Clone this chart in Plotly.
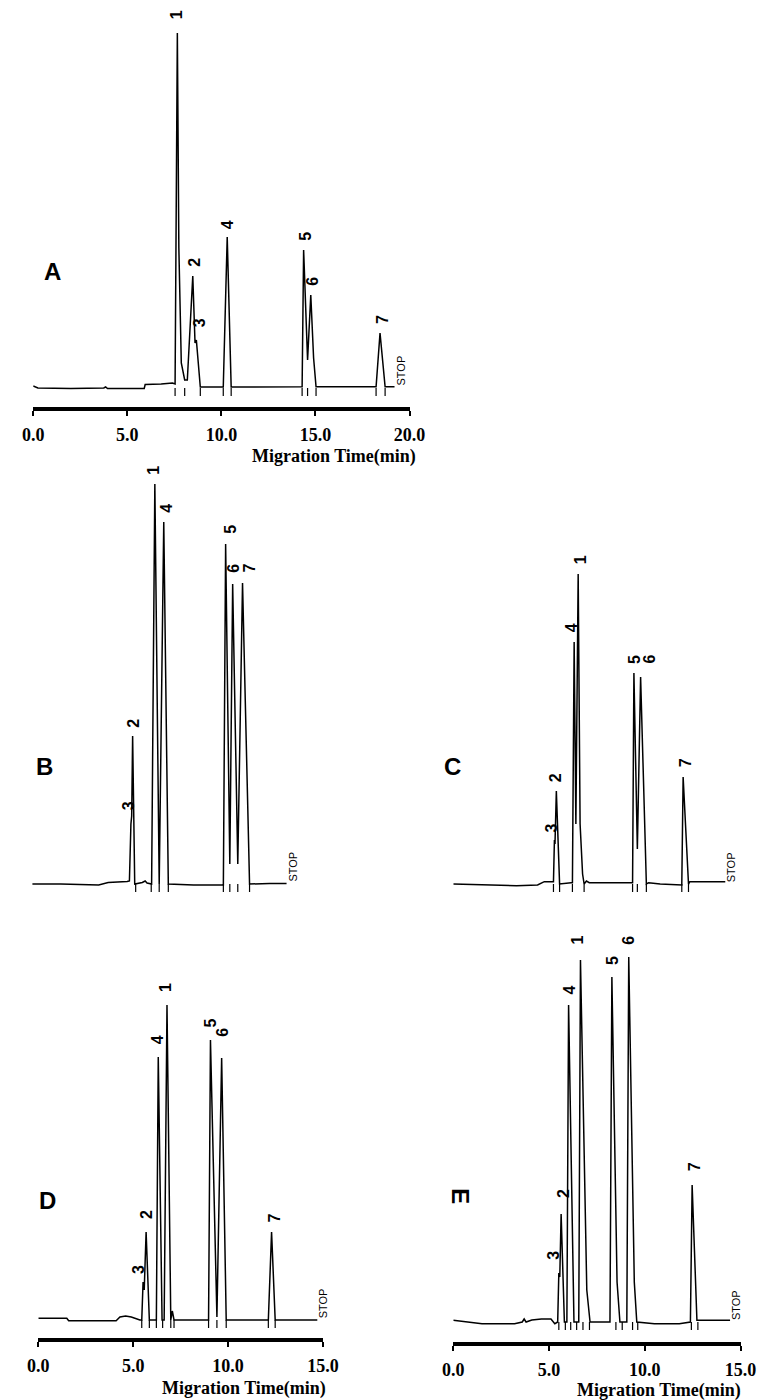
import plotly.graph_objects as go

W, H = 773, 1400

# ---------------- data (time in min, detector signal in arbitrary units) ----------------
peak_names = ["1", "2", "3", "4", "5", "6", "7"]

# Panel A
A_time = [0.0, 0.25, 2.0, 3.75, 3.85, 3.95, 5.9, 5.95, 6.8, 7.4, 7.54, 7.66, 7.74, 7.87, 8.05, 8.19,
          8.48, 8.60, 8.67, 8.78, 8.88, 10.10, 10.31, 10.52, 14.29, 14.37, 14.58, 14.75, 14.90, 15.03,
          18.22, 18.43, 18.70, 19.2]
A_signal = [2.0, 0.0, -0.5, 0.0, 1.0, -0.5, -0.5, 3.5, 4.0, 5.0, 4.0, 355, 140, 25, 8, 8,
            112, 45, 48, 25, 1, 1, 151, 1, 1.3, 138, 28, 93, 30, 1.3,
            1.3, 55, 1.3, 1.3]
A_marks = [7.54, 8.05, 8.88, 10.10, 10.52, 14.29, 14.58, 15.03, 18.22, 18.70]
A_peak_time = [7.66, 8.48, 8.67, 10.31, 14.37, 14.75, 18.43]
A_peak_height = [355, 112, 48, 151, 138, 93, 55]

# Panel B
B_time = [0.0, 1.5, 3.5, 4.0, 5.0, 5.12, 5.20, 5.24, 5.29, 5.40, 5.80, 5.95, 6.05, 6.29, 6.46, 6.69,
          6.93, 7.17, 8.5, 10.07, 10.19, 10.41, 10.56, 10.83, 11.08, 11.45, 12.5, 13.4]
B_signal = [0, 0, -1, 1.5, 2.5, 3, 60, 68, 148, 0, 1.5, 3, 1, 0, 400, 0,
            362, 0, -1, -1, 340, 20, 300, 20, 301, 0, 0.5, 0.5]
B_marks = [5.45, 6.27, 6.69, 7.17, 10.07, 10.41, 10.83, 11.45]
B_peak_time = [6.46, 5.29, 5.22, 6.93, 10.19, 10.56, 11.08]
B_peak_height = [400, 148, 67, 362, 340, 300, 301]

# Panel C
C_time = [0.0, 1.5, 3.3, 4.4, 4.75, 5.15, 5.23, 5.28, 5.31, 5.38, 5.55, 6.15, 6.22, 6.31, 6.40,
          6.52, 6.62, 6.75, 6.83, 6.95, 7.1, 9.36, 9.43, 9.61, 9.78, 10.08, 10.2, 10.8, 11.5, 11.93,
          12.0, 12.28, 12.35, 14.2]
C_signal = [0, -1, -1.7, -1, 2.3, 2.3, 2.3, 44, 40, 93, 0, 1.3, 1.3, 242, 60,
            310, 60, 10, 0, 3, 1.3, 1.3, 211, 35, 207, 0, 1.3, 0, -1, -1,
            107, 0, 2.3, 2.3]
C_marks = [5.23, 5.55, 6.22, 6.83, 9.36, 9.61, 10.08, 11.93, 12.28]
C_peak_time = [6.52, 5.38, 5.28, 6.31, 9.43, 9.78, 12.0]
C_peak_height = [310, 93, 44, 242, 211, 207, 107]

# Panel D
D_time = [0.0, 1.5, 1.6, 4.1, 4.3, 4.6, 4.9, 5.15, 5.35, 5.45, 5.52, 5.58, 5.68, 5.85, 6.22,
          6.32, 6.52, 6.63, 6.78, 6.98, 7.06, 7.15, 8.97, 9.07, 9.41, 9.66, 9.90, 12.12, 12.29,
          12.48, 14.7]
D_signal = [1.7, 1.7, -0.7, -0.7, 3, 4, 3, 1, 0, 0, 38, 30, 88, 0, 0,
            263, 0, 0, 315, 0, 9, 0, 0, 280, 3, 262, 0, 0, 88,
            0, 0]
D_marks = [5.45, 5.85, 6.22, 6.55, 6.98, 7.15, 8.97, 9.41, 9.90, 12.12, 12.48]
D_peak_time = [6.78, 5.68, 5.52, 6.32, 9.07, 9.66, 12.29]
D_peak_height = [315, 88, 38, 263, 280, 262, 88]

# Panel E
E_time = [0.0, 1.5, 3.2, 3.6, 3.7, 3.8, 4.1, 4.6, 5.1, 5.3, 5.45, 5.51, 5.56, 5.63, 5.80, 5.93,
          6.02, 6.30, 6.55, 6.64, 6.97, 7.14, 7.4, 8.18, 8.28, 8.55, 8.70, 9.06, 9.16, 9.45, 9.58,
          10.5, 11.8, 12.38, 12.47, 12.72, 14.45]
E_signal = [1.7, -1.7, -1.7, 0, 3, 0, 2, 3, 3, -1.7, 0, 49, 45, 108, 0, 0,
            317, 0, 0, 362, 32, 0, 0, 0, 345, 40, 0, 0, 365, 40, 0,
            -1.7, -1.7, 0, 137, 1.7, 1.7]
E_marks = [5.51, 5.85, 6.13, 6.44, 6.77, 7.11, 8.49, 8.82, 9.36, 9.63, 12.43, 12.77]
E_peak_time = [6.64, 5.63, 5.51, 6.02, 8.28, 9.16, 12.47]
E_peak_height = [362, 108, 49, 317, 345, 365, 137]

# ---------------- layout / style (pixel geometry of the page) ----------------
panels = [
    dict(letter="A", t=A_time, s=A_signal, marks=A_marks, pt=A_peak_time, ph=A_peak_height,
         xpx=(23, 413), xr=(0, 20), top=8, bottom=407, base=388, axis=True,
         letter_px=(42.5, 271.5), letter_angle=0, title_px=(335, 457),
         nudge={"1": (0, 18), "3": (4, 17), "4": (1, 12), "7": (3, 13)}),
    dict(letter="B", t=B_time, s=B_signal, marks=B_marks, pt=B_peak_time, ph=B_peak_height,
         xpx=(22, 317), xr=(0, 15), top=455, bottom=900, base=884, axis=False,
         letter_px=(35, 766.5), letter_angle=0, title_px=None,
         nudge={"1": (-1, 14), "7": (6, 15), "5": (4, 15), "6": (0, 16), "3": (-3, 11), "2": (0, 13)}),
    dict(letter="C", t=C_time, s=C_signal, marks=C_marks, pt=C_peak_time, ph=C_peak_height,
         xpx=(458.3, 756), xr=(0, 15), top=455, bottom=900, base=884, axis=False,
         letter_px=(457, 766.5), letter_angle=0, title_px=None,
         nudge={"4": (-3, 14), "6": (8, 18), "5": (0, 14), "3": (-3, 12), "2": (-1, 13)}),
    dict(letter="D", t=D_time, s=D_signal, marks=D_marks, pt=D_peak_time, ph=D_peak_height,
         xpx=(28.3, 323.3), xr=(0, 15), top=975, bottom=1338, base=1320, axis=True,
         letter_px=(37.5, 1200), letter_angle=0, title_px=(241, 1388),
         nudge={"1": (-2, 18), "4": (-1, 17), "5": (0, 17), "6": (0, 26), "2": (0, 17), "3": (-5, 12)}),
    dict(letter="E", t=E_time, s=E_signal, marks=E_marks, pt=E_peak_time, ph=E_peak_height,
         xpx=(458.3, 756), xr=(0, 15), top=930, bottom=1342, base=1322, axis=True,
         letter_px=(465.5, 1196.5), letter_angle=90, title_px=(671, 1390),
         nudge={"1": (-3, 20), "4": (0, 15), "5": (0, 17), "6": (-1, 17), "2": (2, 20), "3": (-6, 18), "7": (2, 18)}),
]

SERIF = "Liberation Serif, Times New Roman, serif"
SANS = "Liberation Sans, Arial, sans-serif"
MARK_DEPTH = -8

fig = go.Figure()
layout = dict(width=W, height=H, margin=dict(l=0, r=0, t=0, b=0),
              paper_bgcolor="white", plot_bgcolor="white", showlegend=False)
annotations = []

for i, p in enumerate(panels, start=1):
    sfx = "" if i == 1 else str(i)
    xa, ya = "x" + sfx, "y" + sfx
    # signal trace
    fig.add_trace(go.Scatter(x=p["t"], y=p["s"], mode="lines", xaxis=xa, yaxis=ya,
                             line=dict(color="black", width=1.5), hoverinfo="skip"))
    # integrator event marks
    mx, my = [], []
    for m in p["marks"]:
        mx += [m, m, None]
        my += [0, MARK_DEPTH, None]
    fig.add_trace(go.Scatter(x=mx, y=my, mode="lines", xaxis=xa, yaxis=ya,
                             line=dict(color="black", width=1.2), hoverinfo="skip"))

    xdom = [p["xpx"][0] / W, p["xpx"][1] / W]
    ydom = [1 - p["bottom"] / H, 1 - p["top"] / H]
    yr = [p["base"] - p["bottom"], p["base"] - p["top"]]
    xr = list(p["xr"])
    tv = list(range(int(xr[0]), int(xr[1]) + 1, 5))
    xaxis = dict(domain=xdom, range=xr, anchor=ya, showgrid=False, zeroline=False, fixedrange=True)
    if p["axis"]:
        xaxis.update(showline=True, linewidth=4, linecolor="black", ticks="outside",
                     ticklen=5, tickwidth=2, tickcolor="black", tickvals=tv,
                     ticktext=[f"{v:.1f}" for v in tv], ticklabelstandoff=3,
                     tickfont=dict(family=SERIF, size=18, color="black", weight="bold"))
    else:
        xaxis.update(visible=False)
    layout["xaxis" + sfx] = xaxis
    layout["yaxis" + sfx] = dict(domain=ydom, range=yr, anchor=xa, visible=False,
                                 showgrid=False, zeroline=False, fixedrange=True)

    # peak labels
    for name, t, h in zip(peak_names, p["pt"], p["ph"]):
        dx, dy = p["nudge"].get(name, (2, 14))
        annotations.append(dict(x=t, y=h, xref=xa, yref=ya, text=name, showarrow=False,
                                textangle=-90, xanchor="center", yanchor="middle",
                                xshift=dx, yshift=dy,
                                font=dict(family=SANS, size=16, color="black", weight="bold")))
    # STOP marker at the end of the run
    annotations.append(dict(x=p["t"][-1], y=0, xref=xa, yref=ya, text="STOP", showarrow=False,
                            textangle=-90, xanchor="center", yanchor="middle", xshift=6, yshift=17,
                            font=dict(family=SANS, size=11, color="black")))
    # panel letter
    lx, ly = p["letter_px"]
    annotations.append(dict(x=lx / W, y=1 - ly / H, xref="paper", yref="paper", text=p["letter"],
                            showarrow=False, xanchor="center", yanchor="middle",
                            textangle=p["letter_angle"],
                            font=dict(family=SANS, size=24, color="black", weight="bold")))
    # axis title
    if p["title_px"]:
        tx, ty = p["title_px"]
        annotations.append(dict(x=tx / W, y=1 - ty / H, xref="paper", yref="paper",
                                text="Migration Time(min)", showarrow=False,
                                xanchor="center", yanchor="middle",
                                font=dict(family=SERIF, size=18, color="black", weight="bold")))

layout["annotations"] = annotations
fig.update_layout(**layout)
# remove the browser's default 8px page margin so the 773x1400 figure fills the window exactly
fig.write_html("out.html", config={"displayModeBar": False},
               post_script="document.body.style.margin='0px';")
